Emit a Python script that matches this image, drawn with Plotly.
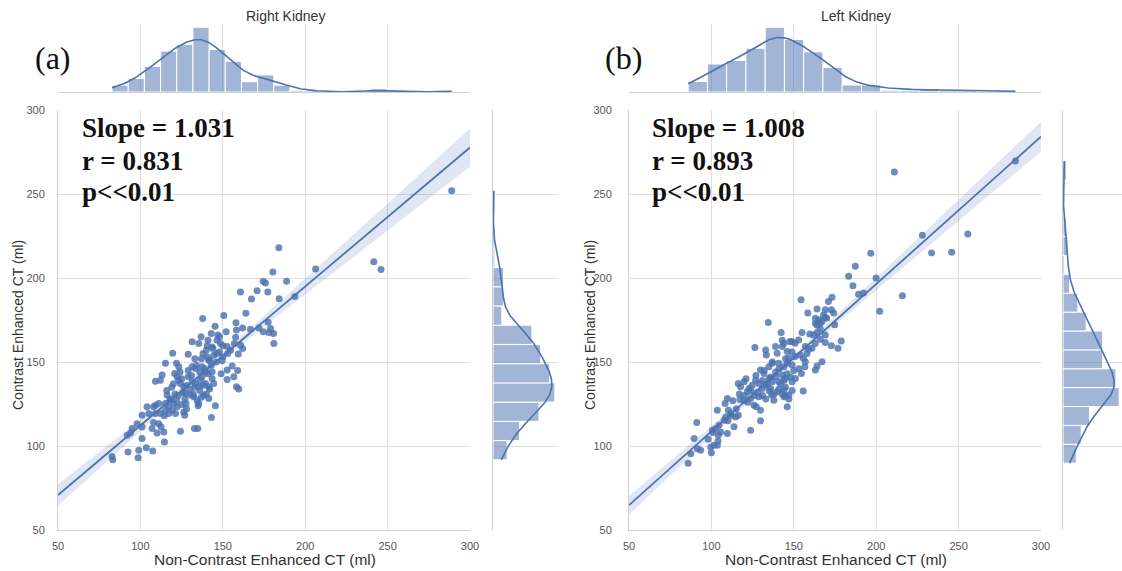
import numpy as np
import plotly.graph_objects as go

# ---------------- data ----------------
panel_titles = ["Right Kidney", "Left Kidney"]
panel_tags = ["(a)", "(b)"]
slope_text = ["Slope = 1.031", "Slope = 1.008"]
r_text = ["r = 0.831", "r = 0.893"]
p_text = ["p<<0.01", "p<<0.01"]
axis_ticks = [50, 100, 150, 200, 250, 300]

rk_noncontrast = [
    184, 180.4, 188.7, 174.5, 175.9, 177.3, 170.8, 160.7, 167.4, 184.2,
    193.7, 164, 150.6, 137.8, 145.3, 158, 162, 158.3, 166.8, 171.9,
    174.5, 178, 180.8, 177.5, 181, 131.4, 135.4, 136.8, 140.5, 143.5,
    146.5, 148, 148.6, 150, 152.6, 154.7, 157.8, 160.8, 159.4, 119.6,
    129, 140.5, 141.5, 144.5, 146.5, 149.6, 115.2, 121.9, 123.3, 131.4,
    133.4, 137.4, 139.5, 143.5, 155.7, 152.6, 113.2, 112.1, 109.1, 120.8,
    122.3, 123.3, 124.3, 126.3, 129, 131.4, 133.4, 135.4, 136.4, 137.4,
    139.5, 141.5, 144.5, 143.5, 152.6, 156.7, 158.3, 159.7, 127.3, 130.4,
    132.4, 134.4, 135.4, 138.5, 141.5, 145.5, 143.1, 116.2, 118.2, 115.2,
    117.2, 120.2, 122.3, 125.3, 127.7, 111.1, 109.1, 108, 104, 105.1,
    109.1, 112.1, 115.2, 117.2, 119.2, 121.3, 126.3, 126.9, 101, 98,
    101, 111.1, 107.1, 110.1, 114.2, 112.5, 95, 94, 92, 101,
    124.3, 132.8, 134.8, 114.6, 92.5, 99, 103.6, 98.6, 107.5, 82.8,
    83.2, 288.9, 241.6, 246, 206.3,
    118, 121, 116, 123, 119, 122, 114.5, 120, 124,
    126, 128, 130, 132, 127, 133, 129, 131, 125, 134, 128, 133,
    136, 138, 140, 142, 137, 139, 141, 143, 136, 138, 140, 142, 144, 137, 141, 143, 135,
    146, 148, 150, 153, 147, 152, 149,
    157, 162, 159, 179, 108,
]
rk_contrast = [
    218, 203.6, 198, 198, 197, 191.6, 192.4, 191.6, 187.5, 187.6,
    189, 179, 177.7, 175.9, 171.3, 173.3, 170.3, 169, 169.5, 170.3,
    168, 167.5, 167, 173.7, 161, 162, 161, 165, 159.6, 159,
    163, 165, 161, 159.6, 159.2, 157, 164.7, 160, 154.8, 155.2,
    154.6, 153, 151, 154, 155, 150.8, 149.2, 149.2, 147.2, 147.2,
    146.2, 147.2, 144.2, 144.2, 147.6, 145.2, 142.2, 139.2, 138.6, 143.2,
    141.2, 139.2, 137.2, 135.3, 141.2, 138.2, 137.2, 135.3, 139.2, 141.2,
    137.2, 135.3, 137.2, 140.2, 139.6, 141.2, 135.3, 133.9, 131.3, 130.3,
    129.3, 127.3, 125.3, 130.3, 128.3, 123.9, 117, 130.3, 127.3, 125.3,
    123.3, 125.3, 123.3, 124.7, 125.3, 125.3, 124.3, 123.3, 123.3, 119.3,
    119.3, 119.3, 121.3, 119.3, 121.3, 119.3, 120.3, 118.3, 118.3, 113.3,
    111.3, 113.3, 110.4, 107.8, 108.4, 111.4, 110.4, 107.8, 106.4, 104.4,
    108.8, 110.4, 110.4, 102.4, 96.4, 97.4, 99, 93, 97, 93.8,
    91.8, 252, 209.7, 205, 205.3,
    128, 131, 133, 130, 135, 127, 118, 137, 144,
    132, 136, 134, 131, 128, 135, 145, 142, 140, 148, 122, 152,
    133, 136, 131, 134, 129, 146, 143, 148, 144, 155, 157, 151, 158, 152, 163, 167, 124,
    150, 156, 153, 155, 166, 168, 143,
    161, 158, 145, 170, 114,
]
lk_noncontrast = [
    187.3, 183.3, 185.9, 189.3, 192.3, 154.4, 173.2, 164.1, 169.1, 158.5,
    172.8, 174.2, 163.1, 165.1, 167.1, 169.1, 163.1, 166.1, 174.8, 134.5,
    142.3, 155, 159.7, 164.1, 152.9, 150.8, 148.8, 144, 143, 138.9,
    139.9, 132.9, 133.3, 126.4, 147.6, 157, 159, 161, 169.1, 166.1,
    172.8, 176.8, 178.8, 169.1, 146, 147, 150.8, 153.8, 155.8, 157,
    146, 149, 140.9, 144, 134.9, 136.9, 129.8, 131.9, 167.1, 164.1,
    163.1, 156.7, 154.6, 151, 149, 143, 145, 139, 141, 135,
    137, 132.9, 136, 128.8, 130.8, 126.8, 124.8, 119.8, 117.7, 116.3,
    122.8, 121.8, 139.9, 144, 147, 145, 144, 136.5, 137.9, 155.7,
    146, 117.3, 119.8, 123.8, 125.8, 127.2, 128.8, 129.8, 109.7, 108.3,
    110.3, 111.7, 114.7, 116.3, 108.7, 107.7, 103.6, 113.7, 109.7, 104.6,
    102.6, 100.6, 105.6, 104.2, 123.8, 129.8, 91.1, 89.5, 99.6, 101.6,
    103.6, 93.5, 91.5, 87.5, 85.9, 284.5, 211, 228, 255.6, 233.6,
    245.8, 196.7, 199.9, 215.9, 202.1,
    98, 101, 104, 100,
    110, 112, 115, 113, 117,
    120, 122, 124, 126, 128, 121, 127,
    131, 133, 135, 138, 131, 134, 136, 139, 132, 137,
    141, 143, 145, 147, 149, 142, 144, 146, 148, 150, 141, 145, 149, 143,
    153, 158,
    162, 164, 166, 168, 170, 163, 171,
]
lk_contrast = [
    207, 201, 195.4, 190.4, 191, 187, 188.6, 181.5, 181.1, 179.1,
    181.1, 179.1, 176.1, 175.1, 174.1, 176.7, 173.1, 173.1, 172.1, 173.5,
    167.5, 167.5, 166.7, 167.5, 163.1, 161.2, 162.2, 161.2, 159.2, 159.2,
    155.2, 157.2, 154.2, 158.6, 162.2, 159.2, 157.6, 158.2, 161.6, 163.5,
    159.6, 158.2, 162.5, 166.1, 156.2, 152.2, 153.2, 154.2, 152.2, 150.2,
    149.2, 148.2, 149.2, 147.2, 147.2, 149.2, 145.2, 143.2, 150.2, 147.6,
    145.2, 147.2, 143.2, 140.2, 138.2, 142.2, 140.2, 141.2, 138.2, 140.2,
    138.2, 136.2, 134.3, 137.2, 134.3, 139.2, 136.2, 138.2, 135.3, 137.2,
    134.3, 132.3, 132.3, 133.3, 130.3, 129.7, 129.3, 130.3, 127.3, 132.7,
    123.3, 127.7, 127.3, 128.3, 124.3, 123.3, 129.3, 121.3, 128.3, 125.3,
    121.3, 119.3, 117.3, 118.3, 117.3, 115.3, 121.3, 111.4, 107.4, 112.4,
    110.4, 109.4, 108.4, 106.4, 109.4, 115, 114, 104.4, 99.4, 100.4,
    100.4, 97.4, 98.4, 95.4, 89.8, 269.6, 263.1, 225.4, 226.2, 214.9,
    215.3, 214.7, 200, 189.5, 180.2,
    104, 108, 103, 96,
    115, 118, 122, 127, 131,
    130, 126, 133, 130, 132, 140, 142,
    130, 128, 133, 131, 139, 137, 141, 144, 145, 150,
    134, 131, 135, 128, 133, 137, 139, 143, 141, 145, 146, 152, 156, 163,
    146, 155,
    166, 172, 170, 178, 176, 161, 186,
]

# ---------------- style ----------------
W, H = 1122, 571
BLUE = "#4C72B0"
BAR = "rgba(76,114,176,0.52)"
GRID = "#dedede"
TICKC = "#555555"
FONT = "Liberation Sans, Arial, sans-serif"
SERIF = "Liberation Serif, Times New Roman, serif"


def px(x):
    return x / W


def py(y):
    return 1 - y / H


def kde(v, binw):
    v = np.asarray(v, float)
    n = len(v)
    bw = v.std(ddof=1) * n ** (-0.2)
    grid = np.linspace(v.min(), v.max(), 250)
    d = np.exp(-0.5 * ((grid[:, None] - v[None, :]) / bw) ** 2).sum(1) / (n * bw * np.sqrt(2 * np.pi))
    return grid, d * n * binw


def regression(x, y, xs):
    x = np.asarray(x, float)
    y = np.asarray(y, float)
    n = len(x)
    b, a = np.polyfit(x, y, 1)
    fit = a + b * xs
    res = y - (a + b * x)
    s = np.sqrt((res ** 2).sum() / (n - 2))
    sxx = ((x - x.mean()) ** 2).sum()
    se = s * np.sqrt(1 / n + (xs - x.mean()) ** 2 / sxx)
    return fit, 1.973 * se


fig = go.Figure()
layout = dict(
    width=W, height=H, margin=dict(l=0, r=0, t=0, b=0, autoexpand=False),
    paper_bgcolor="white", plot_bgcolor="white", showlegend=False,
    font=dict(family=FONT, color=TICKC),
)
annotations = []

panels = [
    dict(x=rk_noncontrast, y=rk_contrast, main_x=(58, 470), marg_x=(493, 558), idx=0),
    dict(x=lk_noncontrast, y=lk_contrast, main_x=(629, 1041), marg_x=(1063, 1122), idx=1),
]
main_y = (110, 530)
top_y = (24, 92)


def note(text, x, y, size, family=FONT, color="#333333", **kw):
    d = dict(text=text, x=px(x), y=py(y), xref="paper", yref="paper", showarrow=False,
             xanchor="center", yanchor="middle", font=dict(family=family, size=size, color=color))
    d.update(kw)
    annotations.append(d)


for p in panels:
    i = p["idx"]
    k = 3 * i
    xm, ym = f"x{k + 1}", f"y{k + 1}"
    xt, yt = f"x{k + 2}", f"y{k + 2}"
    xr, yr = f"x{k + 3}", f"y{k + 3}"
    xv, yv = p["x"], p["y"]
    assert len(xv) == len(yv)

    # regression band and line
    xs = np.linspace(50, 300, 120)
    fit, ci = regression(xv, yv, xs)
    fig.add_trace(go.Scatter(x=xs, y=fit + ci, mode="lines", line=dict(width=0),
                             xaxis=xm, yaxis=ym, hoverinfo="skip"))
    fig.add_trace(go.Scatter(x=xs, y=fit - ci, mode="lines", line=dict(width=0),
                             fill="tonexty", fillcolor="rgba(76,114,176,0.17)",
                             xaxis=xm, yaxis=ym, hoverinfo="skip"))
    fig.add_trace(go.Scatter(x=xv, y=yv, mode="markers",
                             marker=dict(size=7, color="rgba(76,114,176,0.82)", line=dict(width=0)),
                             xaxis=xm, yaxis=ym))
    fig.add_trace(go.Scatter(x=xs, y=fit, mode="lines", line=dict(color=BLUE, width=1.8),
                             xaxis=xm, yaxis=ym))

    # top marginal histogram
    ex = np.histogram_bin_edges(xv, "auto")
    cx, _ = np.histogram(xv, ex)
    bwx = ex[1] - ex[0]
    fig.add_trace(go.Bar(x=(ex[:-1] + ex[1:]) / 2, y=cx, width=bwx,
                         marker=dict(color=BAR, line=dict(color="white", width=1)),
                         xaxis=xt, yaxis=yt))
    gx, dx = kde(xv, bwx)
    fig.add_trace(go.Scatter(x=gx, y=dx, mode="lines", line=dict(color=BLUE, width=1.6),
                             xaxis=xt, yaxis=yt))
    topmax = max(cx.max(), dx.max()) * 1.05

    # right marginal histogram
    ey = np.histogram_bin_edges(yv, "auto")
    cy, _ = np.histogram(yv, ey)
    bwy = ey[1] - ey[0]
    fig.add_trace(go.Bar(y=(ey[:-1] + ey[1:]) / 2, x=cy, width=bwy, orientation="h",
                         marker=dict(color=BAR, line=dict(color="white", width=1)),
                         xaxis=xr, yaxis=yr))
    gy, dy = kde(yv, bwy)
    fig.add_trace(go.Scatter(x=dy, y=gy, mode="lines", line=dict(color=BLUE, width=1.6),
                             xaxis=xr, yaxis=yr))
    rmax = max(cy.max(), dy.max()) * 1.05

    mx0, mx1 = p["main_x"]
    rx0, rx1 = p["marg_x"]
    main_dx = [px(mx0), px(mx1)]
    main_dy = [py(main_y[1]), py(main_y[0])]

    common = dict(showgrid=True, gridcolor=GRID, gridwidth=1, zeroline=False,
                  linecolor="#cfcfcf", linewidth=1, ticks="")
    tf = dict(tickfont=dict(family=FONT, size=11, color=TICKC))
    layout[f"xaxis{k + 1}"] = dict(domain=main_dx, anchor=ym, range=[50, 300],
                                   tickvals=axis_ticks, showline=True,
                                   ticklabelstandoff=6, **common, **tf)
    layout[f"yaxis{k + 1}"] = dict(domain=main_dy, anchor=xm, range=[50, 300],
                                   tickvals=axis_ticks, showline=True,
                                   ticklabelstandoff=10 if i == 0 else 14, **common, **tf)
    layout[f"xaxis{k + 2}"] = dict(domain=main_dx, anchor=yt, range=[50, 300],
                                   tickvals=axis_ticks, showline=True, showticklabels=False,
                                   **common)
    layout[f"yaxis{k + 2}"] = dict(domain=[py(top_y[1]), py(top_y[0])], anchor=xt,
                                   range=[0, topmax], showgrid=False, showticklabels=False,
                                   zeroline=False, showline=False, ticks="")
    layout[f"xaxis{k + 3}"] = dict(domain=[px(rx0), min(px(rx1), 1.0)], anchor=yr,
                                   range=[0, rmax], showgrid=False, showticklabels=False,
                                   zeroline=False, showline=False, ticks="")
    layout[f"yaxis{k + 3}"] = dict(domain=main_dy, anchor=xr, range=[50, 300],
                                   tickvals=axis_ticks, showline=True, showticklabels=False,
                                   **common)

    # texts
    note(panel_titles[i], 285 if i == 0 else 856, 16, 14)
    note(panel_tags[i], 53 if i == 0 else 623, 58, 32, family=SERIF, color="#111111")
    sx = 80 if i == 0 else 650
    for t, yy in zip([slope_text[i], r_text[i], p_text[i]], [128, 161, 192]):
        note(f"<b>{t}</b>", sx, yy, 27, family=SERIF, color="#111111", xanchor="left")
    note("Non-Contrast Enhanced CT (ml)", (mx0 + mx1) / 2 + 1, 559, 15.5)
    note("Contrast Enhanced CT (ml)", 18 if i == 0 else 590, 325, 14, textangle=-90)

layout["annotations"] = annotations
fig.update_layout(**layout)
fig.write_html(
    "out.html",
    config={"displayModeBar": False},
    post_script="document.body.style.margin='0';document.body.style.overflow='hidden';",
)
